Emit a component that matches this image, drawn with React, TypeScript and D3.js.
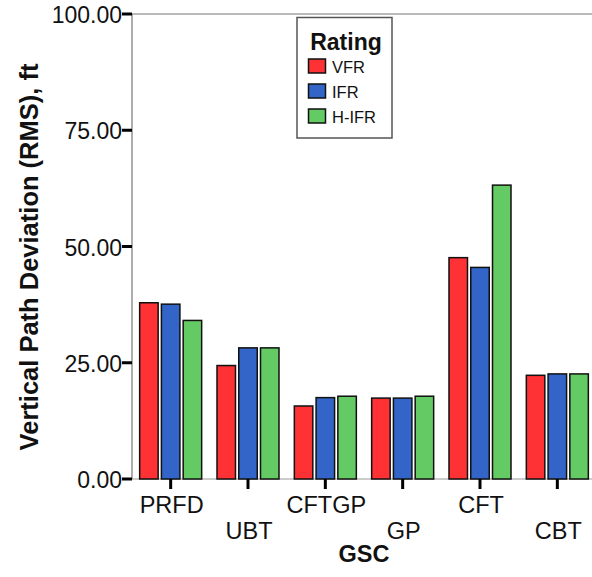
import React from "react";
import * as d3 from "d3";

const categories = ["PRFD", "UBT", "CFTGP", "GP", "CFT", "CBT"];
const ratings = ["VFR", "IFR", "H-IFR"];
const vfr = [37.9, 24.4, 15.7, 17.4, 47.6, 22.3];
const ifr = [37.6, 28.2, 17.5, 17.4, 45.5, 22.6];
const hifr = [34.1, 28.2, 17.8, 17.8, 63.2, 22.6];
const yTicks = [0, 25, 50, 75, 100];
const colors = ["#fe3134", "#3365c9", "#63ca64"];

const W = 592;
const H = 577;
const left = 132;
const right = 596;
const top = 14;
const bottom = 479;

const App = () => {
  const series = [vfr, ifr, hifr];
  const x0 = d3.scaleBand<string>().domain(categories).range([left, right]);
  const step = x0.step();
  const inner = d3.scaleBand<string>().domain(ratings).range([0, 62]).paddingInner(0.15);
  const y = d3.scaleLinear().domain([0, 100]).range([bottom, top]);
  const font = "Liberation Sans, Arial, sans-serif";

  return (
    <svg width={W} height={H} style={{ position: "absolute", left: 0, top: 0 }} fontFamily={font}>
      <rect width={W} height={H} fill="#fff" />
      {/* frame */}
      <line x1={left} x2={W} y1={top} y2={top} stroke="#777" strokeWidth={1.2} />
      <line x1={left} x2={left} y1={top} y2={bottom} stroke="#777" strokeWidth={1.2} />
      <line x1={left} x2={W} y1={bottom} y2={bottom} stroke="#999" strokeWidth={1.2} />

      {/* bars */}
      {categories.map((c, i) => {
        const cx = (x0(c) as number) + step / 2;
        return series.map((s, j) => (
          <rect
            key={c + j}
            x={cx - 31 + (inner(ratings[j]) as number)}
            y={y(s[i])}
            width={inner.bandwidth()}
            height={bottom - y(s[i])}
            fill={colors[j]}
            stroke="#111"
            strokeWidth={1.5}
          />
        ));
      })}

      {/* y axis ticks */}
      {yTicks.map((t) => (
        <g key={t}>
          <line x1={left - 10} x2={left} y1={y(t)} y2={y(t)} stroke="#000" strokeWidth={3} />
          <text x={left - 10} y={y(t) + 9} textAnchor="end" fontSize={23} fill="#111">
            {t.toFixed(2)}
          </text>
        </g>
      ))}

      {/* x axis ticks */}
      {categories.map((c, i) => {
        const cx = (x0(c) as number) + step / 2;
        return (
          <g key={c}>
            <line x1={cx} x2={cx} y1={bottom} y2={bottom + 10} stroke="#000" strokeWidth={3} />
            <text x={cx + 1} y={i % 2 === 0 ? 513 : 539} textAnchor="middle" fontSize={23.5} fill="#111">
              {c}
            </text>
          </g>
        );
      })}

      <text x={364} y={562} textAnchor="middle" fontSize={23.5} fontWeight="bold" fill="#111">
        GSC
      </text>
      <text
        transform={`translate(38,257) rotate(-90)`}
        textAnchor="middle"
        fontSize={25.5}
        fontWeight="bold"
        fill="#111"
      >
        Vertical Path Deviation (RMS), ft
      </text>

      {/* legend */}
      <g>
        <rect x={297} y={17.5} width={95} height={120.5} fill="#fff" stroke="#555" strokeWidth={1.5} />
        <text x={346} y={50} textAnchor="middle" fontSize={23} fontWeight="bold" fill="#111">
          Rating
        </text>
        {ratings.map((r, j) => (
          <g key={r}>
            <rect x={308.5} y={59 + j * 25} width={17} height={14} fill={colors[j]} stroke="#111" strokeWidth={1.5} />
            <text x={332} y={72.5 + j * 25} fontSize={16.5} fill="#111">
              {r}
            </text>
          </g>
        ))}
      </g>
    </svg>
  );
};

export default App;
